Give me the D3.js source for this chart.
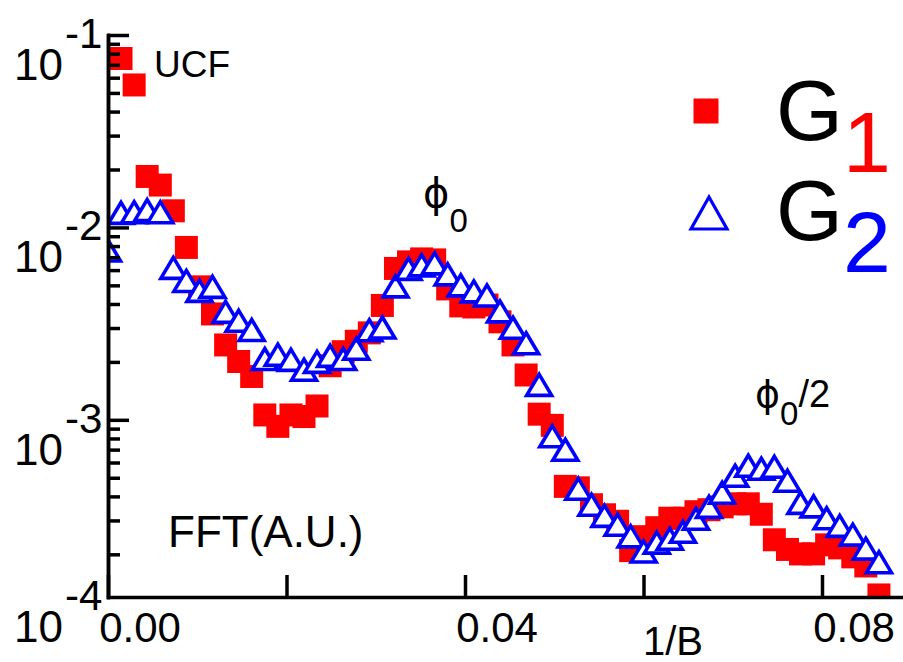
<!DOCTYPE html>
<html><head><meta charset="utf-8">
<script src="https://cdn.jsdelivr.net/npm/d3@7/dist/d3.min.js"></script>
<style>
body{margin:0;background:#fff}
svg{display:block}
text{font-family:"Liberation Sans",Arial,sans-serif;fill:#000}
</style>
</head><body>
<svg id="chart" width="903" height="662"></svg>
<script>
// ---- data (1/B, FFT amplitude in arbitrary units) ----
const invB = [0,0.00146,0.00293,0.00439,0.00586,0.00732,0.00878,0.01025,0.01171,0.01318,
  0.01464,0.01610,0.01757,0.01903,0.02050,0.02196,0.02342,0.02489,0.02635,0.02782,
  0.02928,0.03074,0.03221,0.03367,0.03514,0.03660,0.03806,0.03953,0.04099,0.04246,
  0.04392,0.04538,0.04685,0.04831,0.04978,0.05124,0.05270,0.05417,0.05563,0.05710,
  0.05856,0.06002,0.06149,0.06295,0.06442,0.06588,0.06734,0.06881,0.07027,0.07174,
  0.07320,0.07466,0.07613,0.07759,0.07906,0.08052,0.08198,0.08345,0.08491,0.08638];
const G1 = [null,7.55e-2,5.50e-2,1.84e-2,1.66e-2,1.22e-2,7.87e-3,4.91e-3,3.55e-3,2.45e-3,
  2.01e-3,1.68e-3,1.06e-3,9.25e-4,1.06e-3,1.04e-3,1.18e-3,1.91e-3,2.26e-3,2.56e-3,
  2.83e-3,3.93e-3,6.12e-3,6.62e-3,6.86e-3,6.78e-3,4.79e-3,3.91e-3,3.86e-3,3.95e-3,
  3.23e-3,2.45e-3,1.71e-3,1.07e-3,9.36e-4,4.51e-4,4.43e-4,3.62e-4,3.21e-4,2.97e-4,
  2.09e-4,2.47e-4,2.75e-4,3.08e-4,3.08e-4,3.33e-4,3.41e-4,3.53e-4,3.66e-4,3.66e-4,
  3.23e-4,2.38e-4,2.12e-4,2.01e-4,2.01e-4,2.24e-4,2.16e-4,1.94e-4,1.74e-4,1.23e-4];
const G2 = [7.59e-3,1.19e-2,1.20e-2,1.23e-2,1.20e-2,6.16e-3,5.27e-3,4.68e-3,4.91e-3,3.64e-3,
  3.27e-3,2.93e-3,2.07e-3,2.18e-3,2.05e-3,1.82e-3,2.00e-3,2.15e-3,2.07e-3,2.34e-3,
  2.92e-3,3.02e-3,4.94e-3,6.09e-3,6.35e-3,6.50e-3,5.70e-3,5.00e-3,4.65e-3,4.43e-3,
  3.66e-3,3.01e-3,2.50e-3,1.52e-3,8.21e-4,6.99e-4,4.38e-4,3.62e-4,3.17e-4,2.85e-4,
  2.48e-4,2.07e-4,2.30e-4,2.41e-4,2.62e-4,3.06e-4,3.53e-4,4.18e-4,5.12e-4,5.77e-4,
  5.57e-4,5.70e-4,4.82e-4,3.70e-4,3.55e-4,3.08e-4,2.81e-4,2.53e-4,2.14e-4,1.82e-4];
const xTickValues = [0, 0.02, 0.04, 0.06, 0.08];
const xTickLabels = ["0.00", "", "0.04", "", "0.08"];
const yTickValues = [1e-1, 1e-2, 1e-3];
const yTickExps = ["-1", "-2", "-3"];
const yBottomExp = "-4";
const yMinorValues = [2,3,4,5,6,7,8,9].flatMap(m => [m*1e-4, m*1e-3, m*1e-2]);
const seriesNames = ["G", "G"];
const seriesSubs = ["1", "2"];
const xTitle = "1/B";
const yTitle = "FFT(A.U.)";
const annotations = ["UCF"];

// ---- layout ----
const svg = d3.select("#chart");
const x = d3.scaleLinear().domain([0, 0.09]).range([108, 911.25]);
const y = d3.scaleLog().domain([1.2e-4, 0.1]).range([597, 35]);
const RED = "#ff0000", BLUE = "#0000ff";

svg.append("defs").append("clipPath").attr("id", "plotClip")
  .append("rect").attr("x", x(0)).attr("y", 0)
  .attr("width", 903 - x(0)).attr("height", y.range()[0]);

const plot = svg.append("g").attr("clip-path", "url(#plotClip)");

// squares (G1)
const sq = 23;
plot.selectAll("rect.g1").data(invB.map((v, i) => [v, G1[i]]).filter(d => d[1] != null))
  .join("rect").attr("class", "g1")
  .attr("x", d => x(d[0]) - sq/2).attr("y", d => y(d[1]) - sq/2)
  .attr("width", sq).attr("height", sq).attr("fill", RED);

// triangles (G2)
const tri = (w, top, bot) => `M0,${-top}L${w},${bot}L${-w},${bot}Z`;
plot.selectAll("path.g2").data(invB.map((v, i) => [v, G2[i]]))
  .join("path").attr("class", "g2")
  .attr("transform", d => `translate(${x(d[0])},${y(d[1])})`)
  .attr("d", tri(12.5, 10.5, 10.5))
  .attr("fill", "#fff").attr("stroke", BLUE).attr("stroke-width", 3.6)
  .attr("stroke-linejoin", "miter");

// ---- axes ----
const axStroke = 3.5;
const yAxisMajor = d3.axisRight(y).tickValues(yTickValues).tickSize(21).tickSizeOuter(0).tickFormat("");
const yAxisMinor = d3.axisRight(y).tickValues(yMinorValues.filter(v => v > y.domain()[0] && v < y.domain()[1])).tickSize(12).tickSizeOuter(0).tickFormat("");
const xAxis = d3.axisTop(x).tickValues(xTickValues).tickSize(22).tickSizeOuter(0).tickFormat("");

function styleAxis(g) {
  g.selectAll("path,line").attr("stroke", "#000").attr("stroke-width", axStroke);
}
svg.append("g").attr("transform", `translate(${x(0)},0)`).call(yAxisMinor).call(styleAxis);
svg.append("g").attr("transform", `translate(${x(0)},0)`).call(yAxisMajor).call(styleAxis);
svg.append("g").attr("transform", `translate(0,${y.range()[0]})`).call(xAxis).call(styleAxis);
svg.selectAll(".domain").attr("stroke-linecap", "square");

// y tick labels 10^n
const yLabelVals = yTickValues.concat([y.domain()[0]]);
const yLabelExps = yTickExps.concat([yBottomExp]);
yLabelVals.forEach((v, i) => {
  const ty = y(v);
  svg.append("text").attr("x", 63).attr("y", ty + 45).attr("text-anchor", "end")
    .attr("font-size", 44).text("10");
  svg.append("text").attr("x", 65).attr("y", ty + 13).attr("text-anchor", "start")
    .attr("font-size", 42).text(yLabelExps[i]);
});

// x tick labels
xTickValues.forEach((v, i) => {
  if (!xTickLabels[i]) return;
  svg.append("text").attr("x", x(v) + 32).attr("y", 642).attr("text-anchor", "middle")
    .attr("font-size", 42).text(xTickLabels[i]);
});

// axis titles
svg.append("text").attr("x", 673).attr("y", 655).attr("text-anchor", "middle")
  .attr("font-size", 40).text(xTitle);
svg.append("text").attr("x", 168).attr("y", 547).attr("font-size", 44).text(yTitle);

// annotations
svg.append("text").attr("x", 154).attr("y", 77).attr("font-size", 37).text(annotations[0]);

const PHI = "\u03D5";
const phiFont = "'DejaVu Sans', sans-serif";
const phi1 = svg.append("text").attr("x", 423).attr("y", 207);
phi1.append("tspan").attr("font-size", 40).style("font-family", phiFont).text(PHI);
phi1.append("tspan").attr("font-size", 33).attr("dy", 25).text("0");

const phi2 = svg.append("text").attr("x", 755).attr("y", 407);
phi2.append("tspan").attr("font-size", 38).style("font-family", phiFont).text(PHI);
phi2.append("tspan").attr("font-size", 33).attr("dy", 18).text("0");
phi2.append("tspan").attr("font-size", 38).attr("dy", -18).text("/2");

// ---- legend ----
const lg = svg.append("g");
lg.append("rect").attr("x", 706 - 12.5).attr("y", 111 - 12.5).attr("width", 25).attr("height", 25).attr("fill", RED);
lg.append("path").attr("transform", "translate(709,214)").attr("d", tri(18, 17, 15))
  .attr("fill", "#fff").attr("stroke", BLUE).attr("stroke-width", 3.2);
const colors = [RED, BLUE];
[140, 240].forEach((by, i) => {
  const t = lg.append("text").attr("x", 776).attr("y", by).attr("font-size", 86);
  t.append("tspan").text(seriesNames[i]);
  t.append("tspan").attr("dy", 32).attr("fill", colors[i]).style("fill", colors[i]).text(seriesSubs[i]);
});
</script>
</body></html>
